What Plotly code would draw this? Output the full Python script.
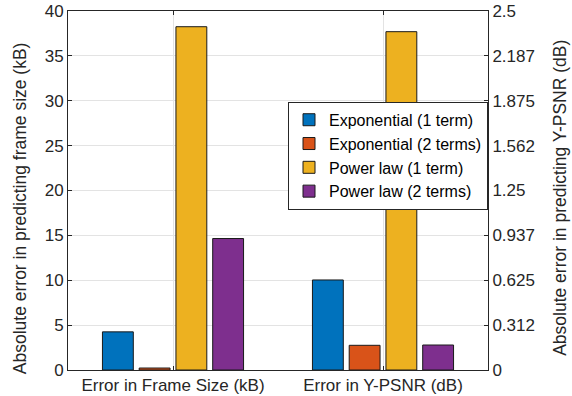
import plotly.graph_objects as go

# Categories and series values
categories = ["Error in Frame Size (kB)", "Error in Y-PSNR (dB)"]
series_names = ["Exponential (1 term)", "Exponential (2 terms)",
                "Power law (1 term)", "Power law (2 terms)"]
frame_size_err = [4.25, 0.22, 38.25, 14.65]      # kB, left axis
psnr_err = [0.627, 0.172, 2.356, 0.174]          # dB, right axis

left_ticks = [0, 5, 10, 15, 20, 25, 30, 35, 40]
right_tickvals = [0, 0.3125, 0.625, 0.9375, 1.25, 1.5625, 1.875, 2.1875, 2.5]
right_ticktext = ["0", "0.312", "0.625", "0.937", "1.25", "1.562", "1.875", "2.187", "2.5"]

left_title = "Absolute error in predicting frame size (kB)"
right_title = "Absolute error in predicting Y-PSNR (dB)"

colors = ["#0072BD", "#D95319", "#EDB120", "#7E2F8E"]

fig = go.Figure()
for i, name in enumerate(series_names):
    fig.add_trace(go.Bar(
        x=[categories[0]], y=[frame_size_err[i]], name=name, yaxis="y",
        offsetgroup=str(i), legendgroup=name,
        marker=dict(color=colors[i], line=dict(color="#1a1a1a", width=1)),
    ))
for i, name in enumerate(series_names):
    fig.add_trace(go.Bar(
        x=[categories[1]], y=[psnr_err[i]], name=name, yaxis="y2",
        offsetgroup=str(i), legendgroup=name, showlegend=False,
        marker=dict(color=colors[i], line=dict(color="#1a1a1a", width=1)),
    ))

family = "Liberation Sans, Arial, sans-serif"
tick_font = dict(family=family, size=17, color="#262626")
title_font = dict(family=family, size=17.5, color="#262626")
grid = "#e3e3e3"

fig.update_layout(
    width=572, height=396,
    margin=dict(l=68, r=84, t=11, b=26),
    paper_bgcolor="white", plot_bgcolor="white",
    font=tick_font,
    barmode="group", bargap=0.3, bargroupgap=0.16,
    showlegend=True,
    legend=dict(
        x=1.0, xanchor="right", y=0.747, yanchor="top",
        bgcolor="white", bordercolor="#262626", borderwidth=1,
        font=dict(family=family, size=16, color="#000000"), tracegroupgap=0,
        itemwidth=30,
    ),
    xaxis=dict(
        type="category", range=[-0.5, 1.5], automargin=False,
        showgrid=True, gridcolor=grid,
        showline=True, linecolor="#262626", linewidth=1, mirror="ticks",
        ticks="inside", ticklen=4, tickcolor="#262626",
        tickfont=tick_font,
    ),
    yaxis=dict(
        range=[0, 40], tickvals=left_ticks, automargin=False,
        showgrid=True, gridcolor=grid, zeroline=False,
        showline=True, linecolor="#262626", linewidth=1,
        ticks="inside", ticklen=4, tickcolor="#262626",
        tickfont=tick_font,
    ),
    yaxis2=dict(
        overlaying="y", side="right", automargin=False,
        range=[0, 2.5], tickvals=right_tickvals, ticktext=right_ticktext,
        showgrid=False, zeroline=False,
        showline=True, linecolor="#262626", linewidth=1,
        ticks="inside", ticklen=4, tickcolor="#262626",
        tickfont=tick_font,
    ),
    annotations=[
        dict(text=left_title, textangle=-90, font=title_font, showarrow=False,
             xref="paper", yref="paper", x=-0.114, y=0.451,
             xanchor="center", yanchor="middle"),
        dict(text=right_title, textangle=-90, font=title_font, showarrow=False,
             xref="paper", yref="paper", x=1.171, y=0.479,
             xanchor="center", yanchor="middle"),
    ],
)

fig.write_html("out.html")
